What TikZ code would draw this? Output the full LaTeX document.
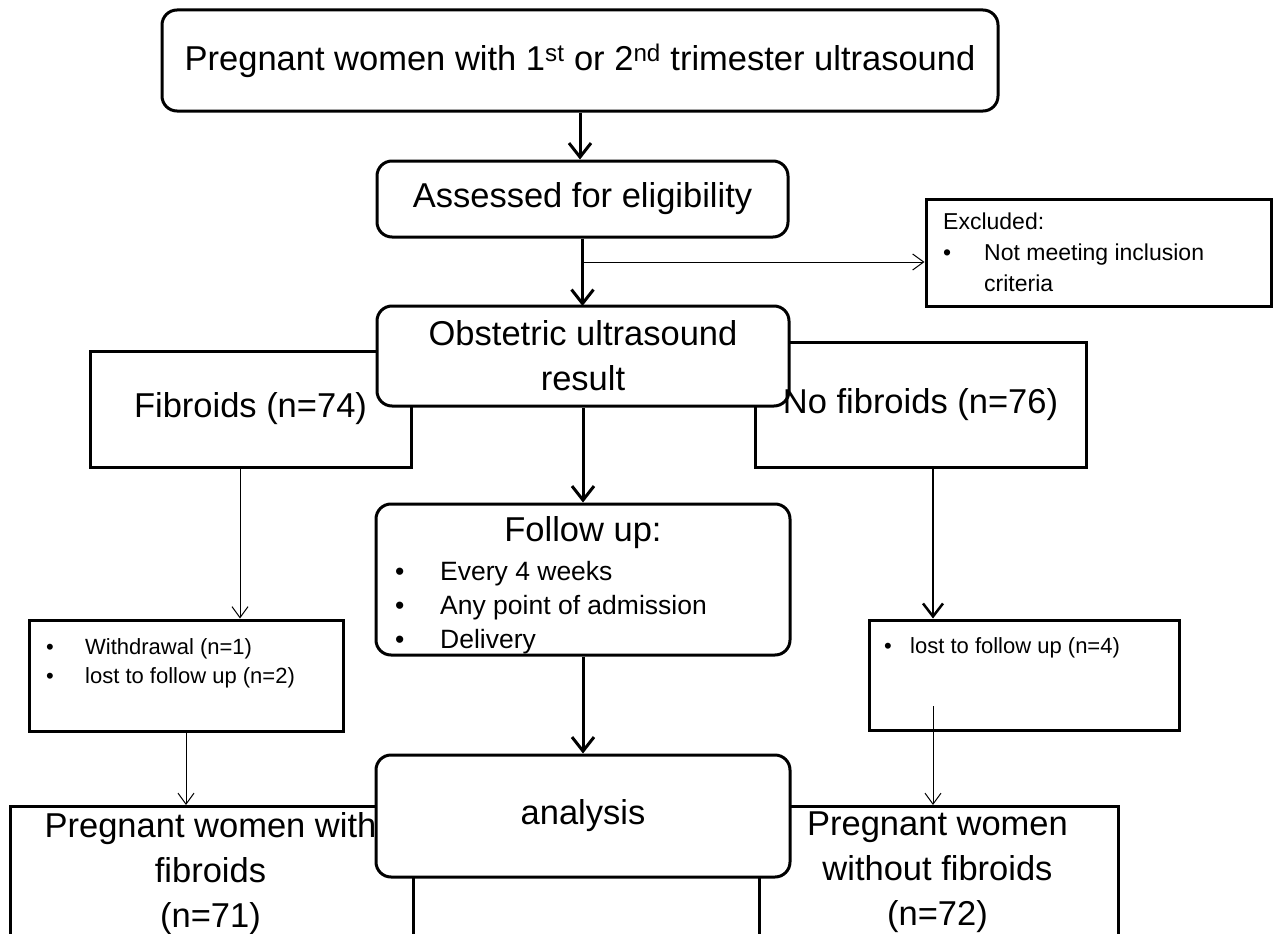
\documentclass[tikz,border=0pt]{standalone}
\usepackage{fontspec}
\setmainfont{Liberation Sans}
\usetikzlibrary{arrows.meta,positioning}

\newcommand{\flbullet}[2][41pt]{\makebox[#1][l]{•}#2}

\tikzset{
  box/.style={draw,line width=3pt,fill=white,inner sep=0pt},
  rbox/.style={box,rounded corners=15pt},
  bigtxt/.style={font=\fontsize{34.5}{45}\selectfont,align=center,inner sep=0pt},
  midtxt/.style={font=\fontsize{26.5}{34}\selectfont,align=left,inner sep=0pt},
  smalltxt/.style={font=\fontsize{22}{29}\selectfont,align=left,inner sep=0pt},
  flowarrow/.style={line width=3pt,-{Straight Barb[length=14pt,width=22pt]}},
  midarrow/.style={line width=2.5pt,-{Straight Barb[length=13pt,width=20pt]}},
  thinarrow/.style={line width=1pt,-{Straight Barb[length=11pt,width=16pt]}}
}

\begin{document}
\begin{tikzpicture}[x=1pt,y=-1pt]
\useasboundingbox (0,0) rectangle (1275,934);

% screening
\node[rbox,bigtxt,minimum width=836,minimum height=101] (top) at (580,60.5)
  {Pregnant women with 1\textsuperscript{st} or 2\textsuperscript{nd} trimester ultrasound};
\node[rbox,bigtxt,minimum width=411,minimum height=76] (assess) at (582.5,199) {Assessed for eligibility};
\node[box,minimum width=345,minimum height=107] (excl) at (1098.5,252.5) {};
\node[smalltxt,font=\fontsize{23}{31}\selectfont,anchor=north west] (excltxt) at (943,213)
  {Excluded:\\\flbullet{Not meeting inclusion}\\\hspace*{41pt}criteria};

\draw[flowarrow] (top.south) -- (top.south |- assess.north);
\draw[flowarrow] (assess.south) -- (assess.south |- 0,306);
\coordinate (brk) at (582.5,262);
\draw[thinarrow] (brk) -- (brk -| excl.west);

% groups
\node[box,bigtxt,minimum width=321,minimum height=116] (fib) at (250.5,409) {Fibroids (n=74)};
\node[box,minimum width=331,minimum height=125] (nofib) at (920.5,404.5) {};
\node[rbox,bigtxt,minimum width=412,minimum height=100] (obst) at (583,356) {Obstetric ultrasound\\result};
\node[bigtxt] (nofibtxt) at (nofib) {No fibroids (n=76)};

\node[rbox,minimum width=414,minimum height=151] (follow) at (583,579.5) {};
\node[bigtxt,anchor=north] (followhd) at (583,516) {Follow up:};
\node[midtxt,anchor=north west] (followls) at (395,561)
  {\flbullet[45pt]{Every 4 weeks}\\\flbullet[45pt]{Any point of admission}\\\flbullet[45pt]{Delivery}};
\draw[flowarrow] (obst.south) -- (follow.north);

\node[box,minimum width=314,minimum height=111] (withd) at (186,675.5) {};
\node[smalltxt,anchor=north west] (withdtxt) at (46,638)
  {\flbullet[39pt]{Withdrawal (n=1)}\\\flbullet[39pt]{lost to follow up (n=2)}};
\node[box,minimum width=310,minimum height=110] (lost) at (1024,675) {};
\node[smalltxt,anchor=north west] (losttxt) at (884,637) {\flbullet[26pt]{lost to follow up (n=4)}};

\coordinate (fibout) at (240,467);
\coordinate (nofibout) at (933,467);
\draw[thinarrow] (fibout) -- (fibout |- withd.north);
\draw[midarrow] (nofibout) -- (nofibout |- lost.north);

% analysed
\node[box,minimum width=403,minimum height=160,anchor=north west] (pwf) at (9,805) {};
\node[box,minimum width=359,minimum height=160,anchor=north west] (pwo) at (758,805) {};
\node[bigtxt,anchor=north] (pwftxt) at (210.5,812) {Pregnant women with\\fibroids\\(n=71)};
\node[bigtxt,anchor=north] (pwotxt) at (937.5,812) {Pregnant women\\without fibroids\\(n=72)};
\node[rbox,bigtxt,minimum width=414,minimum height=122] (anal) at (583,816) {analysis};

\draw[flowarrow] (follow.south) -- (anal.north);
\draw[thinarrow] (withd.south) -- (withd.south |- pwf.north);
\coordinate (lostin) at (933,706);
\draw[thinarrow] (lostin) -- (lostin |- pwo.north);

\end{tikzpicture}
\end{document}
